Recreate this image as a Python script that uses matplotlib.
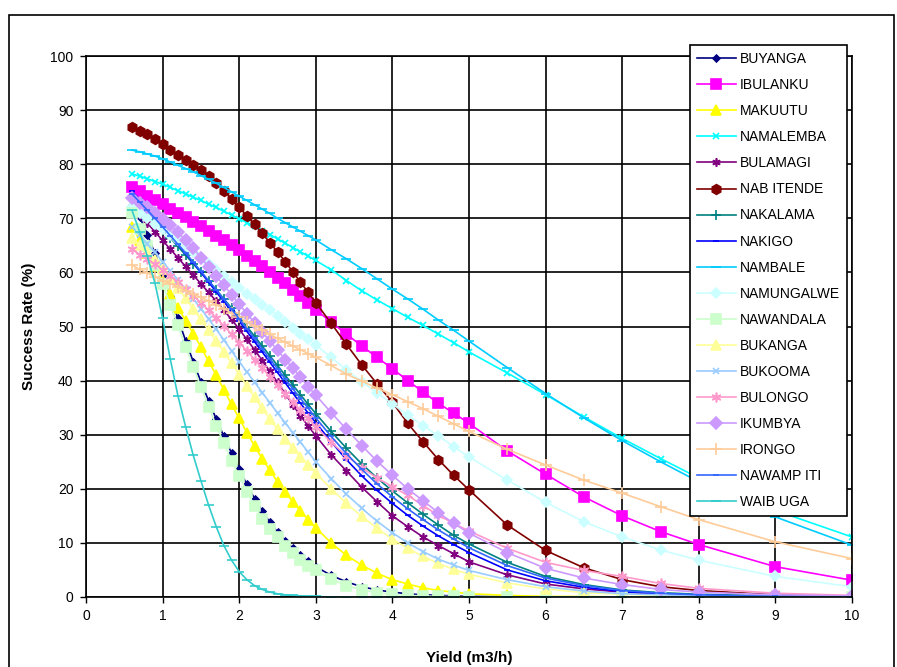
import matplotlib
matplotlib.use("Agg")
import matplotlib.pyplot as plt
from matplotlib.patches import Rectangle

plt.rcParams['font.family'] = ['Liberation Sans', 'DejaVu Sans']

# yield values (m3/h) shared by every series
x = [0.6, 0.7, 0.8, 0.9, 1.0, 1.1, 1.2, 1.3, 1.4, 1.5, 1.6, 1.7, 1.8,
     1.9, 2.0, 2.1, 2.2, 2.3, 2.4, 2.5, 2.6, 2.7, 2.8, 2.9, 3.0,
     3.2, 3.4, 3.6, 3.8, 4.0, 4.2, 4.4, 4.6, 4.8, 5.0,
     5.5, 6.0, 6.5, 7.0, 7.5, 8.0, 9.0, 10.0]

buyanga = [73.5, 70.3, 67.0, 63.5, 59.6, 55.6, 51.5, 47.4, 43.5, 39.8, 36.3, 32.9, 29.7,
           26.6, 23.6, 20.8, 18.2, 15.9, 13.8, 12.0, 10.4, 9.0, 7.7, 6.6, 5.6,
           4.0, 2.8, 1.9, 1.3, 0.9, 0.6, 0.4, 0.3, 0.2, 0.1,
           0.05, 0.0, 0.0, 0.0, 0.0, 0.0, 0.0, 0.0]
ibulanku = [75.8, 75.0, 74.2, 73.4, 72.6, 71.8, 71.0, 70.2, 69.4, 68.5, 67.7, 66.8, 65.9,
            65.0, 64.1, 63.1, 62.1, 61.1, 60.1, 59.0, 58.0, 56.8, 55.6, 54.3, 53.1,
            50.8, 48.6, 46.4, 44.3, 42.2, 40.0, 37.9, 35.8, 34.0, 32.1,
            27.0, 22.7, 18.5, 15.0, 12.1, 9.7, 5.6, 3.1]
makuutu = [68.4, 66.0, 63.6, 61.1, 58.5, 56.0, 53.5, 51.1, 48.7, 46.2, 43.6, 41.0, 38.3,
           35.6, 33.0, 30.4, 27.9, 25.6, 23.4, 21.3, 19.4, 17.6, 15.9, 14.3, 12.8,
           10.0, 7.7, 5.9, 4.4, 3.2, 2.4, 1.7, 1.2, 0.9, 0.6,
           0.3, 0.1, 0.1, 0.0, 0.0, 0.0, 0.0, 0.0]
namalemba = [78.2, 77.8, 77.3, 76.8, 76.3, 75.7, 75.1, 74.5, 73.9, 73.3, 72.6, 72.0, 71.3,
             70.6, 69.9, 69.2, 68.5, 67.7, 67.0, 66.2, 65.4, 64.6, 63.8, 63.0, 62.2,
             60.5, 58.5, 56.6, 54.9, 53.3, 51.7, 50.2, 48.6, 47.0, 45.3,
             41.4, 37.4, 33.3, 29.3, 25.6, 22.0, 16.0, 11.1]
bulamagi = [72.3, 70.7, 69.1, 67.5, 65.9, 64.3, 62.7, 61.1, 59.5, 57.9, 56.3, 54.7, 53.0,
            51.3, 49.5, 47.6, 45.7, 43.7, 41.7, 39.7, 37.6, 35.5, 33.5, 31.6, 29.8,
            26.3, 23.3, 20.3, 17.6, 15.0, 13.0, 11.1, 9.5, 8.0, 6.5,
            4.1, 2.4, 1.5, 0.9, 0.5, 0.3, 0.1, 0.0]
nabitende = [86.8, 86.2, 85.5, 84.6, 83.7, 82.7, 81.7, 80.7, 79.8, 78.9, 77.9, 76.6, 75.1,
             73.6, 72.0, 70.5, 68.9, 67.2, 65.5, 63.8, 62.0, 60.1, 58.2, 56.3, 54.4,
             50.6, 46.7, 42.9, 39.4, 36.0, 32.1, 28.7, 25.4, 22.5, 19.8,
             13.3, 8.6, 5.4, 3.2, 1.9, 1.2, 0.4, 0.1]
nakalama = [74.0, 72.6, 71.1, 69.6, 68.0, 66.4, 64.8, 63.2, 61.6, 60.0, 58.4, 56.8, 55.1,
            53.4, 51.7, 50.0, 48.2, 46.4, 44.6, 42.8, 41.0, 39.2, 37.4, 35.6, 33.9,
            30.6, 27.5, 24.6, 22.0, 19.6, 17.4, 15.3, 13.3, 11.4, 9.8,
            6.4, 3.8, 2.3, 1.3, 0.8, 0.5, 0.2, 0.1]
nakigo = [75.0, 73.5, 71.9, 70.3, 68.6, 66.9, 65.2, 63.5, 61.8, 60.0, 58.2, 56.4, 54.6,
          52.8, 51.0, 49.1, 47.2, 45.3, 43.4, 41.5, 39.6, 37.7, 35.8, 34.0, 32.2,
          28.7, 25.4, 22.4, 19.7, 17.3, 15.1, 13.1, 11.3, 9.7, 8.2,
          5.0, 3.0, 1.8, 1.0, 0.6, 0.3, 0.1, 0.0]
nambale = [82.6, 82.3, 81.9, 81.5, 81.0, 80.4, 79.8, 79.2, 78.6, 77.9, 77.2, 76.5, 75.7,
           74.9, 74.1, 73.3, 72.5, 71.7, 70.9, 70.0, 69.2, 68.4, 67.6, 66.8, 66.0,
           64.2, 62.5, 60.7, 58.8, 56.9, 55.1, 53.2, 51.2, 49.3, 47.3,
           42.4, 37.6, 33.1, 28.9, 25.0, 21.3, 14.8, 9.6]
namungalwe = [72.0, 71.0, 70.0, 69.0, 68.0, 67.0, 66.0, 64.9, 63.8, 62.7, 61.6, 60.5, 59.3,
              58.2, 57.1, 56.0, 55.0, 54.0, 53.0, 52.0, 50.9, 49.8, 48.7, 47.6, 46.6,
              44.3, 42.0, 39.8, 37.7, 35.7, 33.6, 31.7, 29.8, 27.8, 25.9,
              21.6, 17.5, 13.9, 11.1, 8.7, 6.8, 3.8, 1.9]
nawandala = [71.0, 68.0, 64.8, 61.4, 57.8, 54.0, 50.2, 46.3, 42.5, 38.8, 35.2, 31.7, 28.4,
             25.2, 22.3, 19.5, 16.9, 14.5, 12.6, 11.0, 9.5, 8.1, 6.9, 5.8, 4.9,
             3.3, 2.1, 1.3, 0.8, 0.5, 0.3, 0.2, 0.1, 0.1, 0.0,
             0.0, 0.0, 0.0, 0.0, 0.0, 0.0, 0.0, 0.0]
bukanga = [66.4, 65.1, 63.7, 62.2, 60.6, 58.9, 57.1, 55.2, 53.3, 51.3, 49.3, 47.3, 45.3,
           43.2, 41.1, 39.0, 36.9, 34.9, 32.9, 31.0, 29.2, 27.5, 25.9, 24.4, 22.9,
           20.0, 17.3, 14.9, 12.7, 10.7, 9.0, 7.5, 6.2, 5.1, 4.2,
           2.6, 1.5, 0.8, 0.5, 0.3, 0.2, 0.1, 0.0]
bukooma = [68.4, 66.9, 65.3, 63.7, 62.0, 60.3, 58.6, 56.9, 55.1, 53.3, 51.4, 49.5, 47.5,
           45.5, 43.5, 41.6, 39.7, 37.8, 35.9, 34.0, 32.2, 30.4, 28.6, 26.8, 25.0,
           21.9, 19.0, 16.4, 14.0, 11.9, 10.0, 8.4, 7.0, 5.9, 4.9,
           3.2, 1.9, 1.1, 0.6, 0.4, 0.2, 0.1, 0.0]
bulongo = [64.3, 63.3, 62.4, 61.5, 60.5, 59.4, 58.2, 57.0, 55.7, 54.4, 53.0, 51.6, 50.1,
           48.6, 47.0, 45.5, 43.9, 42.3, 40.7, 39.1, 37.5, 36.0, 34.5, 33.0, 31.5,
           28.6, 26.1, 23.9, 22.0, 20.4, 18.8, 16.9, 15.1, 13.6, 12.2,
           9.0, 6.4, 4.9, 3.8, 2.5, 1.6, 0.7, 0.3]
ikumbya = [73.7, 72.9, 72.0, 71.0, 69.9, 68.7, 67.4, 66.0, 64.5, 62.7, 61.0, 59.3, 57.6,
           55.9, 54.1, 52.4, 50.7, 49.0, 47.3, 45.6, 43.9, 42.3, 40.6, 38.9, 37.3,
           34.1, 31.0, 28.0, 25.1, 22.5, 20.0, 17.8, 15.6, 13.6, 11.8,
           8.2, 5.3, 3.5, 2.3, 1.4, 0.9, 0.4, 0.2]
irongo = [61.3, 60.6, 59.9, 59.2, 58.5, 57.9, 57.3, 56.6, 56.0, 55.4, 54.7, 54.0, 53.3,
          52.5, 51.7, 50.9, 50.1, 49.4, 48.6, 47.8, 47.1, 46.4, 45.7, 45.0, 44.3,
          42.8, 41.2, 39.9, 38.6, 37.4, 36.1, 34.8, 33.4, 32.0, 30.6,
          27.3, 24.4, 21.6, 19.2, 16.7, 14.3, 10.2, 7.1]
nawampiti = [74.5, 73.0, 71.5, 70.0, 68.4, 66.8, 65.2, 63.6, 61.9, 60.2, 58.5, 56.8, 55.0,
             53.2, 51.4, 49.6, 47.8, 45.9, 44.0, 42.2, 40.3, 38.5, 36.7, 34.9, 33.1,
             29.7, 26.5, 23.6, 20.9, 18.5, 16.3, 14.3, 12.4, 10.7, 9.1,
             5.8, 3.5, 2.1, 1.2, 0.7, 0.4, 0.1, 0.0]
waibuga = [71.5, 67.5, 63.0, 58.0, 51.5, 44.0, 37.2, 31.5, 26.2, 21.5, 17.0, 13.0, 9.5,
           6.8, 4.7, 3.2, 2.1, 1.4, 0.9, 0.6, 0.4, 0.3, 0.2, 0.1, 0.1,
           0.0, 0.0, 0.0, 0.0, 0.0, 0.0, 0.0, 0.0, 0.0, 0.0,
           0.0, 0.0, 0.0, 0.0, 0.0, 0.0, 0.0, 0.0]

names = ['BUYANGA', 'IBULANKU', 'MAKUUTU', 'NAMALEMBA', 'BULAMAGI', 'NAB ITENDE',
         'NAKALAMA', 'NAKIGO', 'NAMBALE', 'NAMUNGALWE', 'NAWANDALA', 'BUKANGA',
         'BUKOOMA', 'BULONGO', 'IKUMBYA', 'IRONGO', 'NAWAMP ITI', 'WAIB UGA']
series = [buyanga, ibulanku, makuutu, namalemba, bulamagi, nabitende,
          nakalama, nakigo, nambale, namungalwe, nawandala, bukanga,
          bukooma, bulongo, ikumbya, irongo, nawampiti, waibuga]

colors = ['#000080', '#FF00FF', '#FFFF00', '#00FFFF', '#800080', '#800000',
          '#008080', '#0000FF', '#00CCFF', '#CCFFFF', '#CCFFCC', '#FFFF99',
          '#99CCFF', '#FF99CC', '#CC99FF', '#FFCC99', '#3366FF', '#33CCCC']
star = (6, 2, 0)
markers = ['D', 's', '^', 'x', star, 'h', '+', '_', '_', 'D', 's', '^',
           'x', star, 'D', '+', '_', '_']
sizes = [3.5, 7, 7, 5, 6, 7, 7, 5, 7, 5, 7, 7, 5, 7, 6, 8, 5, 7]

fig = plt.figure(figsize=(8.97, 6.67), dpi=100)
ax = fig.add_axes([86 / 897, 70 / 667, 766 / 897, 541 / 667])

for name, y, c, m, s in zip(names, series, colors, markers, sizes):
    ax.plot(x, y, color=c, marker=m, markersize=s, linewidth=1.2,
            markeredgewidth=1.2, label=name)

ax.set_xlim(0, 10)
ax.set_ylim(0, 100)
ax.set_xticks(range(0, 11))
ax.set_yticks(range(0, 101, 10))
ax.grid(True, color='black', linewidth=1.2)
ax.set_axisbelow(True)
for sp in ax.spines.values():
    sp.set_color('black')
    sp.set_linewidth(1.2)
ax.tick_params(direction='out', length=4, width=1, labelsize=10, pad=5)

ax.set_xlabel('Yield (m3/h)', fontsize=11, fontweight='bold', labelpad=20)
ax.set_ylabel('Success Rate (%)', fontsize=11, fontweight='bold', labelpad=10)

leg = fig.legend(loc='upper left', bbox_to_anchor=(690 / 897, 1 - 45 / 667, 157 / 897, 0),
                 mode='expand', fontsize=10, handlelength=2.8, labelspacing=0.87,
                 borderaxespad=0, fancybox=False, edgecolor='black', framealpha=1,
                 handletextpad=0.3, borderpad=0.5)
leg.get_frame().set_linewidth(1.2)

# outer chart border
fig.patches.append(Rectangle((9 / 897, -0.05), 885 / 897, 1.05 - 15 / 667,
                             transform=fig.transFigure, fill=False,
                             edgecolor='black', linewidth=1.2))

fig.savefig('out.png', dpi=100)
